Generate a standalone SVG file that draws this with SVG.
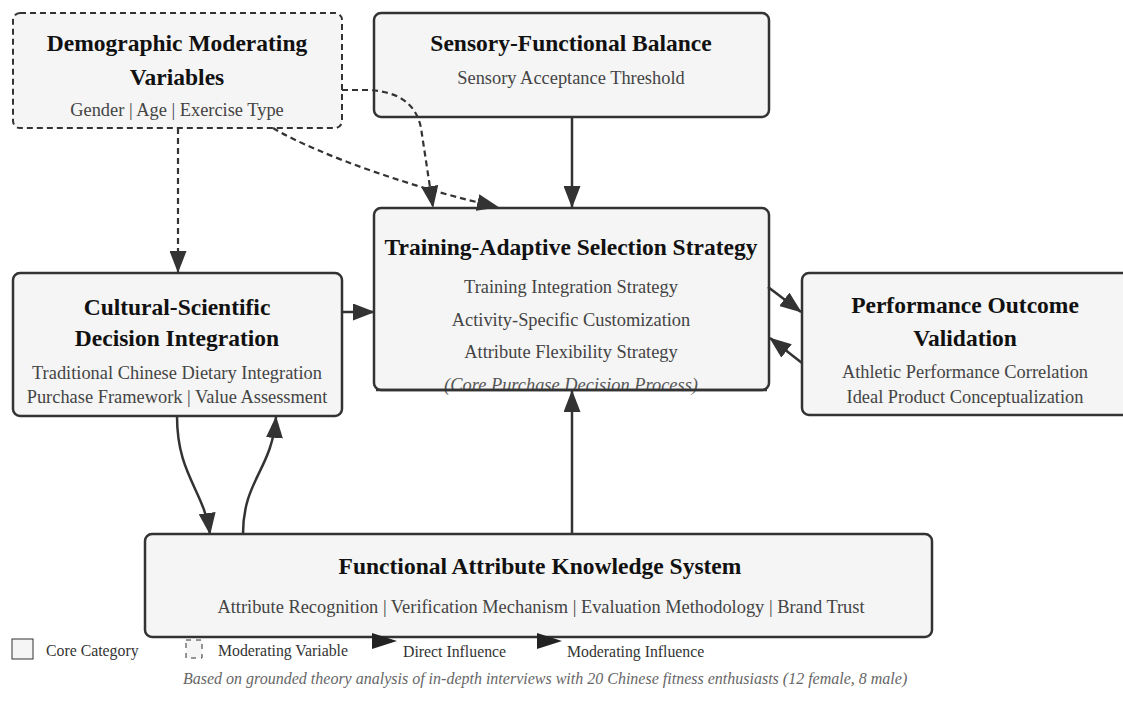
<svg xmlns="http://www.w3.org/2000/svg" width="1123" height="713" viewBox="0 0 1123 713">
<style>
.box{fill:#f5f5f5;stroke:#333;stroke-width:2.5}
.dbox{fill:#f5f5f5;stroke:#333;stroke-width:2;stroke-dasharray:6,4}
.t{font-family:"Liberation Serif","Times New Roman",serif;font-weight:bold;font-size:23.5px;fill:#111;text-anchor:middle}
.s{font-family:"Liberation Serif","Times New Roman",serif;font-size:18.4px;fill:#444;text-anchor:middle}
.i{font-family:"Liberation Serif","Times New Roman",serif;font-size:18.4px;font-style:italic;fill:#555;text-anchor:middle}
.c{fill:none;stroke:#333;stroke-width:2.5}
.d{fill:none;stroke:#333;stroke-width:2.2;stroke-dasharray:6,4}
.lg{font-family:"Liberation Serif","Times New Roman",serif;font-size:15.8px;fill:#333}
.fn{font-family:"Liberation Serif","Times New Roman",serif;font-size:16px;font-style:italic;fill:#666}
</style>
<defs>
<marker id="a" viewBox="0 0 22 17" refX="21" refY="8.5" markerWidth="22" markerHeight="17" markerUnits="userSpaceOnUse" orient="auto">
<path d="M0,0 L22,8.5 L0,17 z" fill="#333"/>
</marker>
</defs>

<g id="demographic">
<rect class="dbox" x="13" y="13" width="329" height="115" rx="7"/>
<text class="t" x="177" y="51">Demographic Moderating</text>
<text class="t" x="177" y="85">Variables</text>
<text class="s" x="177" y="116">Gender | Age | Exercise Type</text>
</g>

<g id="sensory">
<rect class="box" x="374" y="13" width="395" height="104" rx="7"/>
<text class="t" x="571" y="51">Sensory-Functional Balance</text>
<text class="s" x="571" y="84">Sensory Acceptance Threshold</text>
</g>

<g id="training">
<rect class="box" x="374" y="208" width="395" height="182" rx="7"/>
<text class="t" x="571" y="255">Training-Adaptive Selection Strategy</text>
<text class="s" x="571" y="293">Training Integration Strategy</text>
<text class="s" x="571" y="326">Activity-Specific Customization</text>
<text class="s" x="571" y="358">Attribute Flexibility Strategy</text>
<text class="i" x="571" y="391">(Core Purchase Decision Process)</text>
<rect x="376" y="388.75" width="391" height="2.5" fill="#333"/>
</g>

<g id="cultural">
<rect class="box" x="13" y="273" width="329" height="143" rx="7"/>
<text class="t" x="177" y="315">Cultural-Scientific</text>
<text class="t" x="177" y="346">Decision Integration</text>
<text class="s" x="177" y="379">Traditional Chinese Dietary Integration</text>
<text class="s" x="177" y="403">Purchase Framework | Value Assessment</text>
</g>

<g id="performance">
<rect class="box" x="802" y="273" width="340" height="142" rx="7"/>
<text class="t" x="965" y="313">Performance Outcome</text>
<text class="t" x="965" y="346">Validation</text>
<text class="s" x="965" y="378">Athletic Performance Correlation</text>
<text class="s" x="965" y="403">Ideal Product Conceptualization</text>
</g>

<g id="functional">
<rect class="box" x="145" y="534" width="787" height="103" rx="7"/>
<text class="t" x="540" y="574">Functional Attribute Knowledge System</text>
<text class="s" x="541" y="613">Attribute Recognition | Verification Mechanism | Evaluation Methodology | Brand Trust</text>
</g>

<g id="connectors">
<path class="d" d="M178,128 V272" marker-end="url(#a)"/>
<path class="d" d="M342,90 L368,90 Q414,92 421,128 L433,207" marker-end="url(#a)"/>
<path class="d" d="M273,128 C320,156 420,190 498,207" marker-end="url(#a)"/>
<path class="c" d="M572,117 V207" marker-end="url(#a)"/>
<path class="c" d="M342,312 H374" marker-end="url(#a)"/>
<path class="c" d="M768,287 L801,312" marker-end="url(#a)"/>
<path class="c" d="M802,363 L770,338" marker-end="url(#a)"/>
<path class="c" d="M572,534 V391" marker-end="url(#a)"/>
<path class="c" d="M177,416 C177,475 204,490 210,534" marker-end="url(#a)"/>
<path class="c" d="M243,534 C243,480 272,470 276,417" marker-end="url(#a)"/>
</g>

<g id="legend">
<rect x="12" y="639" width="21" height="20" fill="#f5f5f5" stroke="#333" stroke-width="1"/>
<text class="lg" x="46" y="656">Core Category</text>
<rect x="186" y="640" width="16" height="18" fill="#f5f5f5" stroke="#333" stroke-width="1" stroke-dasharray="5,5"/>
<text class="lg" x="218" y="656">Moderating Variable</text>
<path d="M372,633 L397,641 L372,649 z" fill="#222"/>
<text class="lg" x="403" y="657">Direct Influence</text>
<path d="M537,633 L562,641 L537,649 z" fill="#222"/>
<text class="lg" x="567" y="657">Moderating Influence</text>
<text class="fn" x="183" y="684">Based on grounded theory analysis of in-depth interviews with 20 Chinese fitness enthusiasts (12 female, 8 male)</text>
</g>
</svg>
